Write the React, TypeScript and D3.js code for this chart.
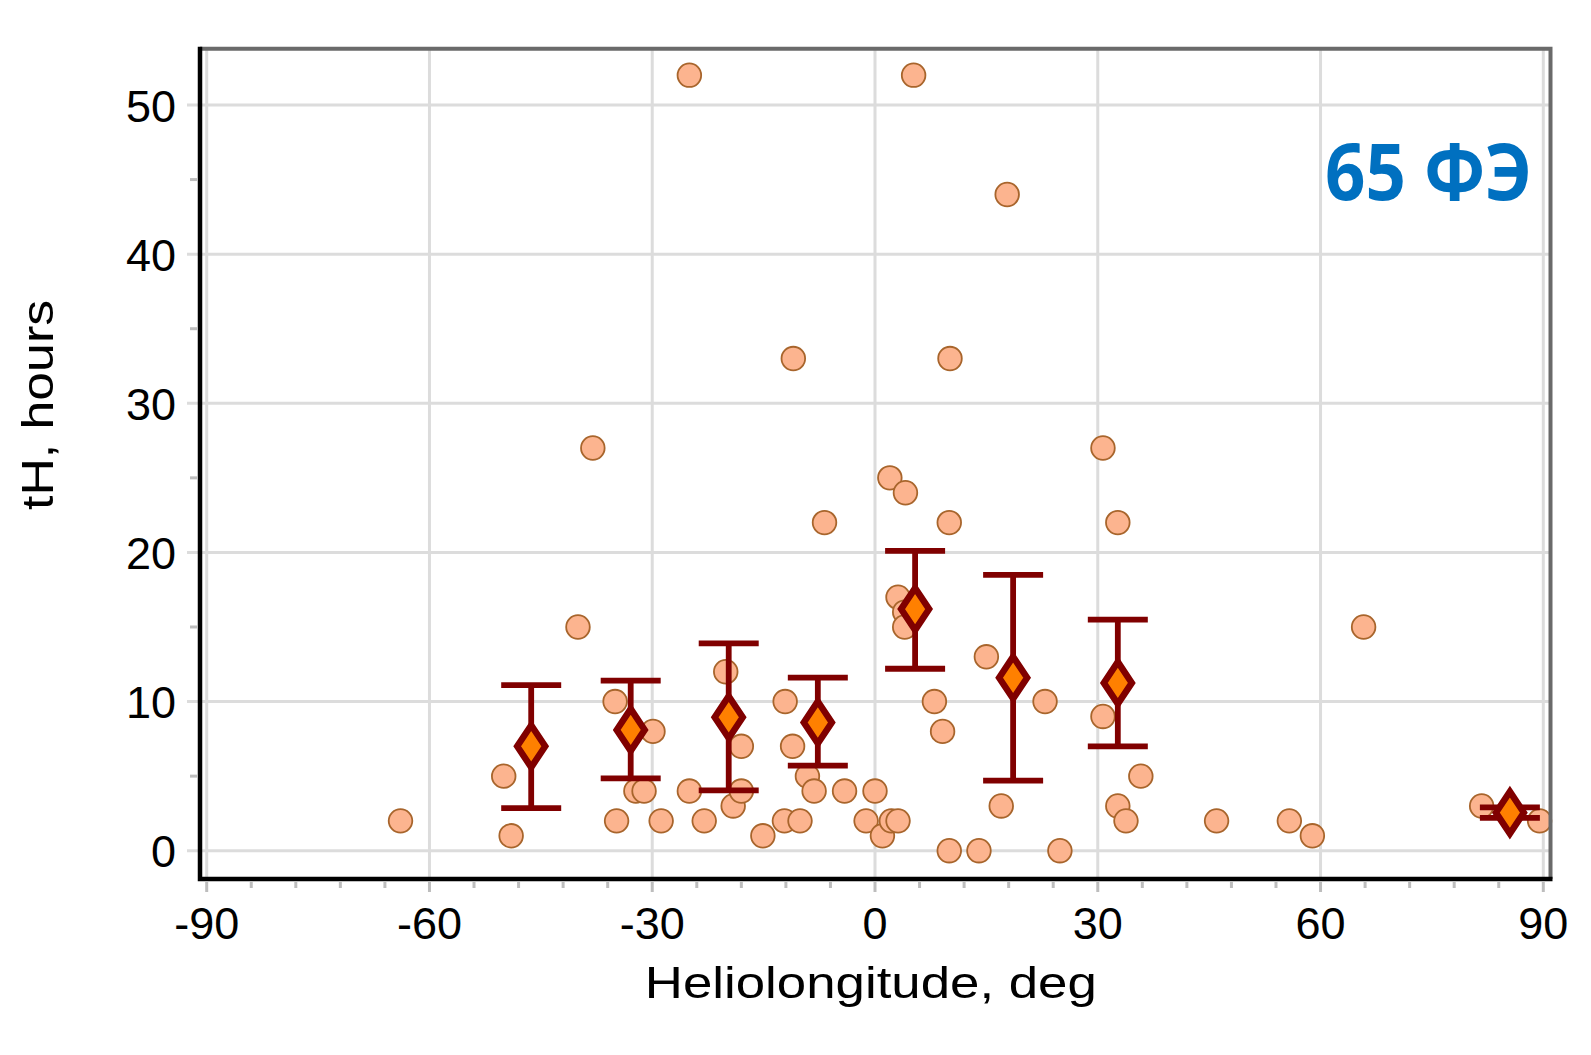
import { useRef, useEffect } from "react";
import * as d3 from "d3";

// scatter of individual events: heliolongitude (deg) vs tH (hours)
const pointLon = [
  -63.9, -50, -49, -40, -38, -35, -34.8, -32.2, -31.1, -29.9, -28.8, -25, -25, -23,
  -20.1, -19.1, -18, -18, -15.1, -12.1, -12.2, -11.1, -11, -10.1, -9.1, -8.2, -6.8,
  -4.1, -1.2, 0, 1, 2.2, 3.1, 2, 4.1, 3.1, 4, 4, 5.2, 8, 9.1, 10, 10.1, 10, 14, 15, 17,
  17.8, 22.9, 24.9, 30.7, 30.7, 32.7, 32.7, 33.8, 35.8, 46, 55.8, 58.9, 65.8, 81.7, 89.5,
];
const pointHours = [
  2, 5, 1, 15, 27, 10, 2, 4, 4, 8, 2, 52, 4, 2,
  12, 3, 7, 4, 1, 10, 2, 7, 33, 2, 5, 4, 22,
  4, 2, 4, 1, 2, 2, 25, 24, 17, 16, 15, 52, 10, 8, 0, 33, 22, 0, 13, 3,
  44, 10, 0, 27, 9, 22, 3, 2, 5, 2, 2, 1, 15, 3, 2,
];

// bin means with error bars
const meanLon = [-46.3, -32.9, -19.7, -7.7, 5.4, 18.6, 32.7, 85.5];
const meanHours = [7.0, 8.1, 8.95, 8.6, 16.2, 11.6, 11.25, 2.55];
const errLow = [2.85, 4.85, 4.05, 5.7, 12.2, 4.7, 7.0, 2.2];
const errHigh = [11.1, 11.4, 13.9, 11.6, 20.1, 18.5, 15.5, 2.9];

const xTicks = [-90, -60, -30, 0, 30, 60, 90];
const yTicks = [0, 10, 20, 30, 40, 50];
const xMinorTicks = d3.range(-90, 91, 6);
const yMinorTicks = [5, 15, 25, 35, 45];

const App = () => {
  const svgRef = useRef<SVGSVGElement | null>(null);

  useEffect(() => {
    const width = 1591;
    const height = 1055;
    const box = { left: 200, right: 1550.5, top: 48.7, bottom: 879 };
    const font = "'Liberation Sans', Arial, sans-serif";

    const svg = d3.select(svgRef.current);
    svg.selectAll("*").remove();
    svg.attr("width", width).attr("height", height);

    const xScale = d3.scaleLinear().domain([-90, 90]).range([206.7, 1543.3]);
    const yScale = d3.scaleLinear().domain([0, 50]).range([850.7, 105]);

    svg.append("rect").attr("width", width).attr("height", height).attr("fill", "#fff");

    /** grid */
    const grid = svg.append("g").attr("stroke", "#dcdcdc").attr("stroke-width", 3);
    grid
      .selectAll(".vg")
      .data(xTicks)
      .enter()
      .append("line")
      .attr("x1", (d) => xScale(d))
      .attr("x2", (d) => xScale(d))
      .attr("y1", box.top)
      .attr("y2", box.bottom);
    grid
      .selectAll(".hg")
      .data(yTicks)
      .enter()
      .append("line")
      .attr("x1", 187)
      .attr("x2", box.right)
      .attr("y1", (d) => yScale(d))
      .attr("y2", (d) => yScale(d));

    /** points */
    svg
      .append("g")
      .selectAll("circle")
      .data(pointLon)
      .enter()
      .append("circle")
      .attr("cx", (d) => xScale(d))
      .attr("cy", (_, i) => yScale(pointHours[i]))
      .attr("r", 11.8)
      .attr("fill", "#fcb48f")
      .attr("stroke", "#a8652c")
      .attr("stroke-width", 1.8);

    /** error bars */
    const eb = svg
      .append("g")
      .attr("stroke", "#800000")
      .attr("stroke-width", 5.8)
      .attr("fill", "none");
    meanLon.forEach((lon, i) => {
      const cx = xScale(lon);
      eb.append("line")
        .attr("x1", cx)
        .attr("x2", cx)
        .attr("y1", yScale(errLow[i]))
        .attr("y2", yScale(errHigh[i]));
      [errLow[i], errHigh[i]].forEach((v) => {
        eb.append("line")
          .attr("x1", cx - 30)
          .attr("x2", cx + 30)
          .attr("y1", yScale(v))
          .attr("y2", yScale(v));
      });
    });

    /** diamonds */
    svg
      .append("g")
      .selectAll("path")
      .data(meanLon)
      .enter()
      .append("path")
      .attr("d", "M0,-21L14,0L0,21L-14,0Z")
      .attr("transform", (d, i) => `translate(${xScale(d)},${yScale(meanHours[i])})`)
      .attr("fill", "#ff8000")
      .attr("stroke", "#800000")
      .attr("stroke-width", 6.5)
      .attr("stroke-linejoin", "miter");

    /** frame */
    svg
      .append("path")
      .attr("d", `M${box.left},${box.top}H${box.right}V${box.bottom}`)
      .attr("fill", "none")
      .attr("stroke", "#6a6a6a")
      .attr("stroke-width", 4);
    svg
      .append("path")
      .attr("d", `M${box.left},${box.top - 2}V${box.bottom}H${box.right + 2}`)
      .attr("fill", "none")
      .attr("stroke", "#000")
      .attr("stroke-width", 4.5);

    /** ticks */
    const ticks = svg.append("g").attr("stroke", "#bdbdbd").attr("stroke-width", 3);
    ticks
      .selectAll(".xt")
      .data(xMinorTicks)
      .enter()
      .append("line")
      .attr("x1", (d) => xScale(d))
      .attr("x2", (d) => xScale(d))
      .attr("y1", box.bottom + 3)
      .attr("y2", (d) => box.bottom + (d % 30 === 0 ? 13 : 9));
    ticks
      .selectAll(".yt")
      .data(yMinorTicks)
      .enter()
      .append("line")
      .attr("x1", 190)
      .attr("x2", 197)
      .attr("y1", (d) => yScale(d))
      .attr("y2", (d) => yScale(d));

    /** tick labels */
    svg
      .append("g")
      .selectAll("text")
      .data(xTicks)
      .enter()
      .append("text")
      .attr("x", (d) => xScale(d))
      .attr("y", 939)
      .attr("text-anchor", "middle")
      .attr("font-family", font)
      .attr("font-size", 45)
      .text((d) => d);
    svg
      .append("g")
      .selectAll("text")
      .data(yTicks)
      .enter()
      .append("text")
      .attr("x", 176)
      .attr("y", (d) => yScale(d) + 16.5)
      .attr("text-anchor", "end")
      .attr("font-family", font)
      .attr("font-size", 45)
      .text((d) => d);

    /** axis titles */
    svg
      .append("text")
      .attr("x", 870.8)
      .attr("y", 998)
      .attr("text-anchor", "middle")
      .attr("font-family", font)
      .attr("font-size", 45)
      .attr("textLength", 452)
      .attr("lengthAdjust", "spacingAndGlyphs")
      .text("Heliolongitude, deg");
    svg
      .append("text")
      .attr("transform", "translate(53,405) rotate(-90)")
      .attr("text-anchor", "middle")
      .attr("font-family", font)
      .attr("font-size", 45)
      .attr("textLength", 210)
      .attr("lengthAdjust", "spacingAndGlyphs")
      .text("tH, hours");

    /** label */
    svg
      .append("text")
      .attr("x", 1532)
      .attr("y", 200)
      .attr("text-anchor", "end")
      .attr("font-family", "'Open Sans', sans-serif")
      .attr("font-weight", 700)
      .attr("font-size", 78)
      .attr("fill", "#0070c0")
      .attr("textLength", 207)
      .attr("lengthAdjust", "spacingAndGlyphs")
      .text("65 ФЭ");
  }, []);

  return (
    <svg
      ref={svgRef}
      style={{ position: "absolute", left: 0, top: 0, display: "block" }}
    />
  );
};

export default App;
